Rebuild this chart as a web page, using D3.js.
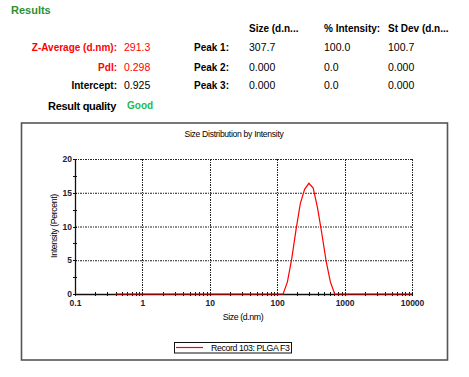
<!DOCTYPE html>
<html>
<head>
<meta charset="utf-8">
<script src="https://cdn.jsdelivr.net/npm/d3@7"></script>
<style>
  body { margin: 0; background: #fff; }
  svg { font-family: "Liberation Sans", Arial, sans-serif; }
</style>
</head>
<body>
<svg id="chart" width="469" height="377"></svg>
<script>
// Size bins (d.nm) and intensity (%)
const sizes = [0.4, 0.4632, 0.5365, 0.6213, 0.7195, 0.8332, 0.9649, 1.117, 1.294, 1.499,
  1.736, 2.010, 2.328, 2.696, 3.122, 3.615, 4.187, 4.849, 5.615, 6.503,
  7.531, 8.721, 10.10, 11.70, 13.54, 15.69, 18.17, 21.04, 24.36, 28.21,
  32.67, 37.84, 43.82, 50.75, 58.77, 68.06, 78.82, 91.28, 105.7, 122.4,
  141.8, 164.2, 190.1, 220.2, 255.0, 295.3, 342.0, 396.1, 458.7, 531.2,
  615.1, 712.4, 825.0, 955.4, 1106, 1281, 1484, 1718, 1990, 2305,
  2669, 3091, 3580, 4145, 4801, 5560, 6439, 7456, 8635, 10000];
const intensity = [0, 0, 0, 0, 0, 0, 0, 0, 0, 0,
  0, 0, 0, 0, 0, 0, 0, 0, 0, 0,
  0, 0, 0, 0, 0, 0, 0, 0, 0, 0,
  0, 0, 0, 0, 0, 0, 0, 0, 0, 0,
  1.8, 5.2, 9.5, 13.4, 15.5, 16.4, 15.7, 12.8, 9.0, 4.9,
  1.8, 0, 0, 0, 0, 0, 0, 0, 0, 0,
  0, 0, 0, 0, 0, 0, 0, 0, 0, 0];
const xTicks = [0.1, 1, 10, 100, 1000, 10000];
const yTicks = [0, 5, 10, 15, 20];
const seriesName = "Record 103: PLGA F3";

// Results table
const headers = ["Size (d.n...", "% Intensity:", "St Dev (d.n..."];
const summaryLabels = ["Z-Average (d.nm):", "PdI:", "Intercept:"];
const summaryValues = ["291.3", "0.298", "0.925"];
const summaryColors = ["#f00", "#f00", "#000"];
const peakLabels = ["Peak 1:", "Peak 2:", "Peak 3:"];
const peakSize = ["307.7", "0.000", "0.000"];
const peakInt = ["100.0", "0.0", "0.0"];
const peakSd = ["100.7", "0.000", "0.000"];

const svg = d3.select("#chart");

// --- header text block ---
svg.append("text").attr("x", 11).attr("y", 14)
  .attr("font-size", 11).attr("font-weight", "bold").attr("fill", "#2f8f2f")
  .text("Results");

const colX = [249, 324, 388];
headers.forEach((h, i) => {
  svg.append("text").attr("x", colX[i]).attr("y", 32)
    .attr("font-size", 10).attr("font-weight", "bold").text(h);
});

const rowY = [51, 71, 89];
summaryLabels.forEach((t, i) => {
  svg.append("text").attr("x", 117).attr("y", rowY[i]).attr("text-anchor", "end")
    .attr("font-size", 10).attr("font-weight", "bold").attr("fill", summaryColors[i]).text(t);
  svg.append("text").attr("x", 124).attr("y", rowY[i])
    .attr("font-size", 10.5).attr("fill", summaryColors[i]).text(summaryValues[i]);
  svg.append("text").attr("x", 229).attr("y", rowY[i]).attr("text-anchor", "end")
    .attr("font-size", 10).attr("font-weight", "bold").text(peakLabels[i]);
  [peakSize[i], peakInt[i], peakSd[i]].forEach((v, j) => {
    svg.append("text").attr("x", colX[j]).attr("y", rowY[i])
      .attr("font-size", 10.5).text(v);
  });
});

svg.append("text").attr("x", 116).attr("y", 110).attr("text-anchor", "end")
  .attr("font-size", 11).attr("font-weight", "bold").attr("letter-spacing", -0.3)
  .text("Result quality");
svg.append("text").attr("x", 127).attr("y", 109)
  .attr("font-size", 10).attr("font-weight", "bold").attr("fill", "#1db954").text("Good");

// --- chart frame ---
svg.append("rect").attr("x", 21.5).attr("y", 123).attr("width", 426).attr("height", 237)
  .attr("fill", "none").attr("stroke", "#555").attr("stroke-width", 1.6);

svg.append("text").attr("x", 234).attr("y", 137).attr("text-anchor", "middle")
  .attr("font-size", 8.6).attr("letter-spacing", -0.3).text("Size Distribution by Intensity");

const pLeft = 75, pRight = 412, pTop = 159, pBottom = 294;
const x = d3.scaleLog().domain([0.1, 10000]).range([pLeft, pRight]);
const y = d3.scaleLinear().domain([0, 20]).range([pBottom, pTop]);

// grid
const grid = svg.append("g").attr("stroke", "#222").attr("stroke-width", 1)
  .attr("stroke-dasharray", "2,1,1,1");
yTicks.filter(d => d > 0).forEach(d => {
  grid.append("line").attr("x1", pLeft).attr("x2", pRight)
    .attr("y1", y(d) + 0.5).attr("y2", y(d) + 0.5);
});
xTicks.filter(d => d > 0.1).forEach(d => {
  grid.append("line").attr("x1", Math.round(x(d)) + 0.5).attr("x2", Math.round(x(d)) + 0.5)
    .attr("y1", pTop).attr("y2", pBottom);
});

// minor x ticks
const minor = [];
xTicks.slice(0, -1).forEach(d => { for (let k = 2; k <= 9; k++) minor.push(d * k); });

// axes
const xAxis = d3.axisBottom(x).tickValues(xTicks).tickFormat(d3.format("")).tickSize(0).tickPadding(6);
const gx = svg.append("g").attr("transform", `translate(0,${pBottom})`).call(xAxis);
gx.select(".domain").attr("stroke", "#111").attr("stroke-width", 1.3);
gx.selectAll("text").attr("font-size", 8.5).attr("font-weight", "bold").attr("fill", "#223")
  .attr("font-family", "Liberation Sans, Arial, sans-serif");
gx.selectAll(".minor").data(minor.concat(xTicks)).enter().append("line")
  .attr("x1", d => Math.round(x(d)) + 0.5).attr("x2", d => Math.round(x(d)) + 0.5)
  .attr("y1", -2).attr("y2", 2).attr("stroke", "#111");

const yAxis = d3.axisLeft(y).tickValues(yTicks).tickSize(0).tickPadding(3);
const gy = svg.append("g").attr("transform", `translate(${pLeft},0)`).call(yAxis);
gy.select(".domain").attr("stroke", "#111").attr("stroke-width", 1.3);
gy.selectAll("text").attr("font-size", 8.5).attr("font-weight", "bold").attr("fill", "#223")
  .attr("font-family", "Liberation Sans, Arial, sans-serif");
gy.selectAll(".ymin").data(d3.range(0, 20.1, 2.5)).enter().append("line")
  .attr("x1", -2).attr("x2", 2)
  .attr("y1", d => Math.round(y(d)) + 0.5).attr("y2", d => Math.round(y(d)) + 0.5)
  .attr("stroke", "#111");

// series line, drawn over the axis
const line = d3.line().x((d, i) => x(sizes[i])).y(d => y(d));
svg.append("path").datum(intensity).attr("d", line)
  .attr("fill", "none").attr("stroke", "#f00").attr("stroke-width", 1.2);

// axis titles
svg.append("text").attr("x", 243).attr("y", 320).attr("text-anchor", "middle")
  .attr("font-size", 8.8).attr("letter-spacing", -0.4).text("Size (d.nm)");
svg.append("text").attr("transform", "translate(57,226) rotate(-90)").attr("text-anchor", "middle")
  .attr("font-size", 8.8).attr("letter-spacing", -0.4).text("Intensity (Percent)");

// legend
const lg = svg.append("g");
lg.append("rect").attr("x", 174.5).attr("y", 342.5).attr("width", 117).attr("height", 10.5)
  .attr("fill", "#fff").attr("stroke", "#111");
lg.append("line").attr("x1", 176).attr("x2", 203).attr("y1", 347.5).attr("y2", 347.5)
  .attr("stroke", "#f00").attr("stroke-width", 1.2);
lg.append("text").attr("x", 211).attr("y", 351.2).attr("font-size", 8.8)
  .attr("letter-spacing", -0.4).text(seriesName);
</script>
</body>
</html>
